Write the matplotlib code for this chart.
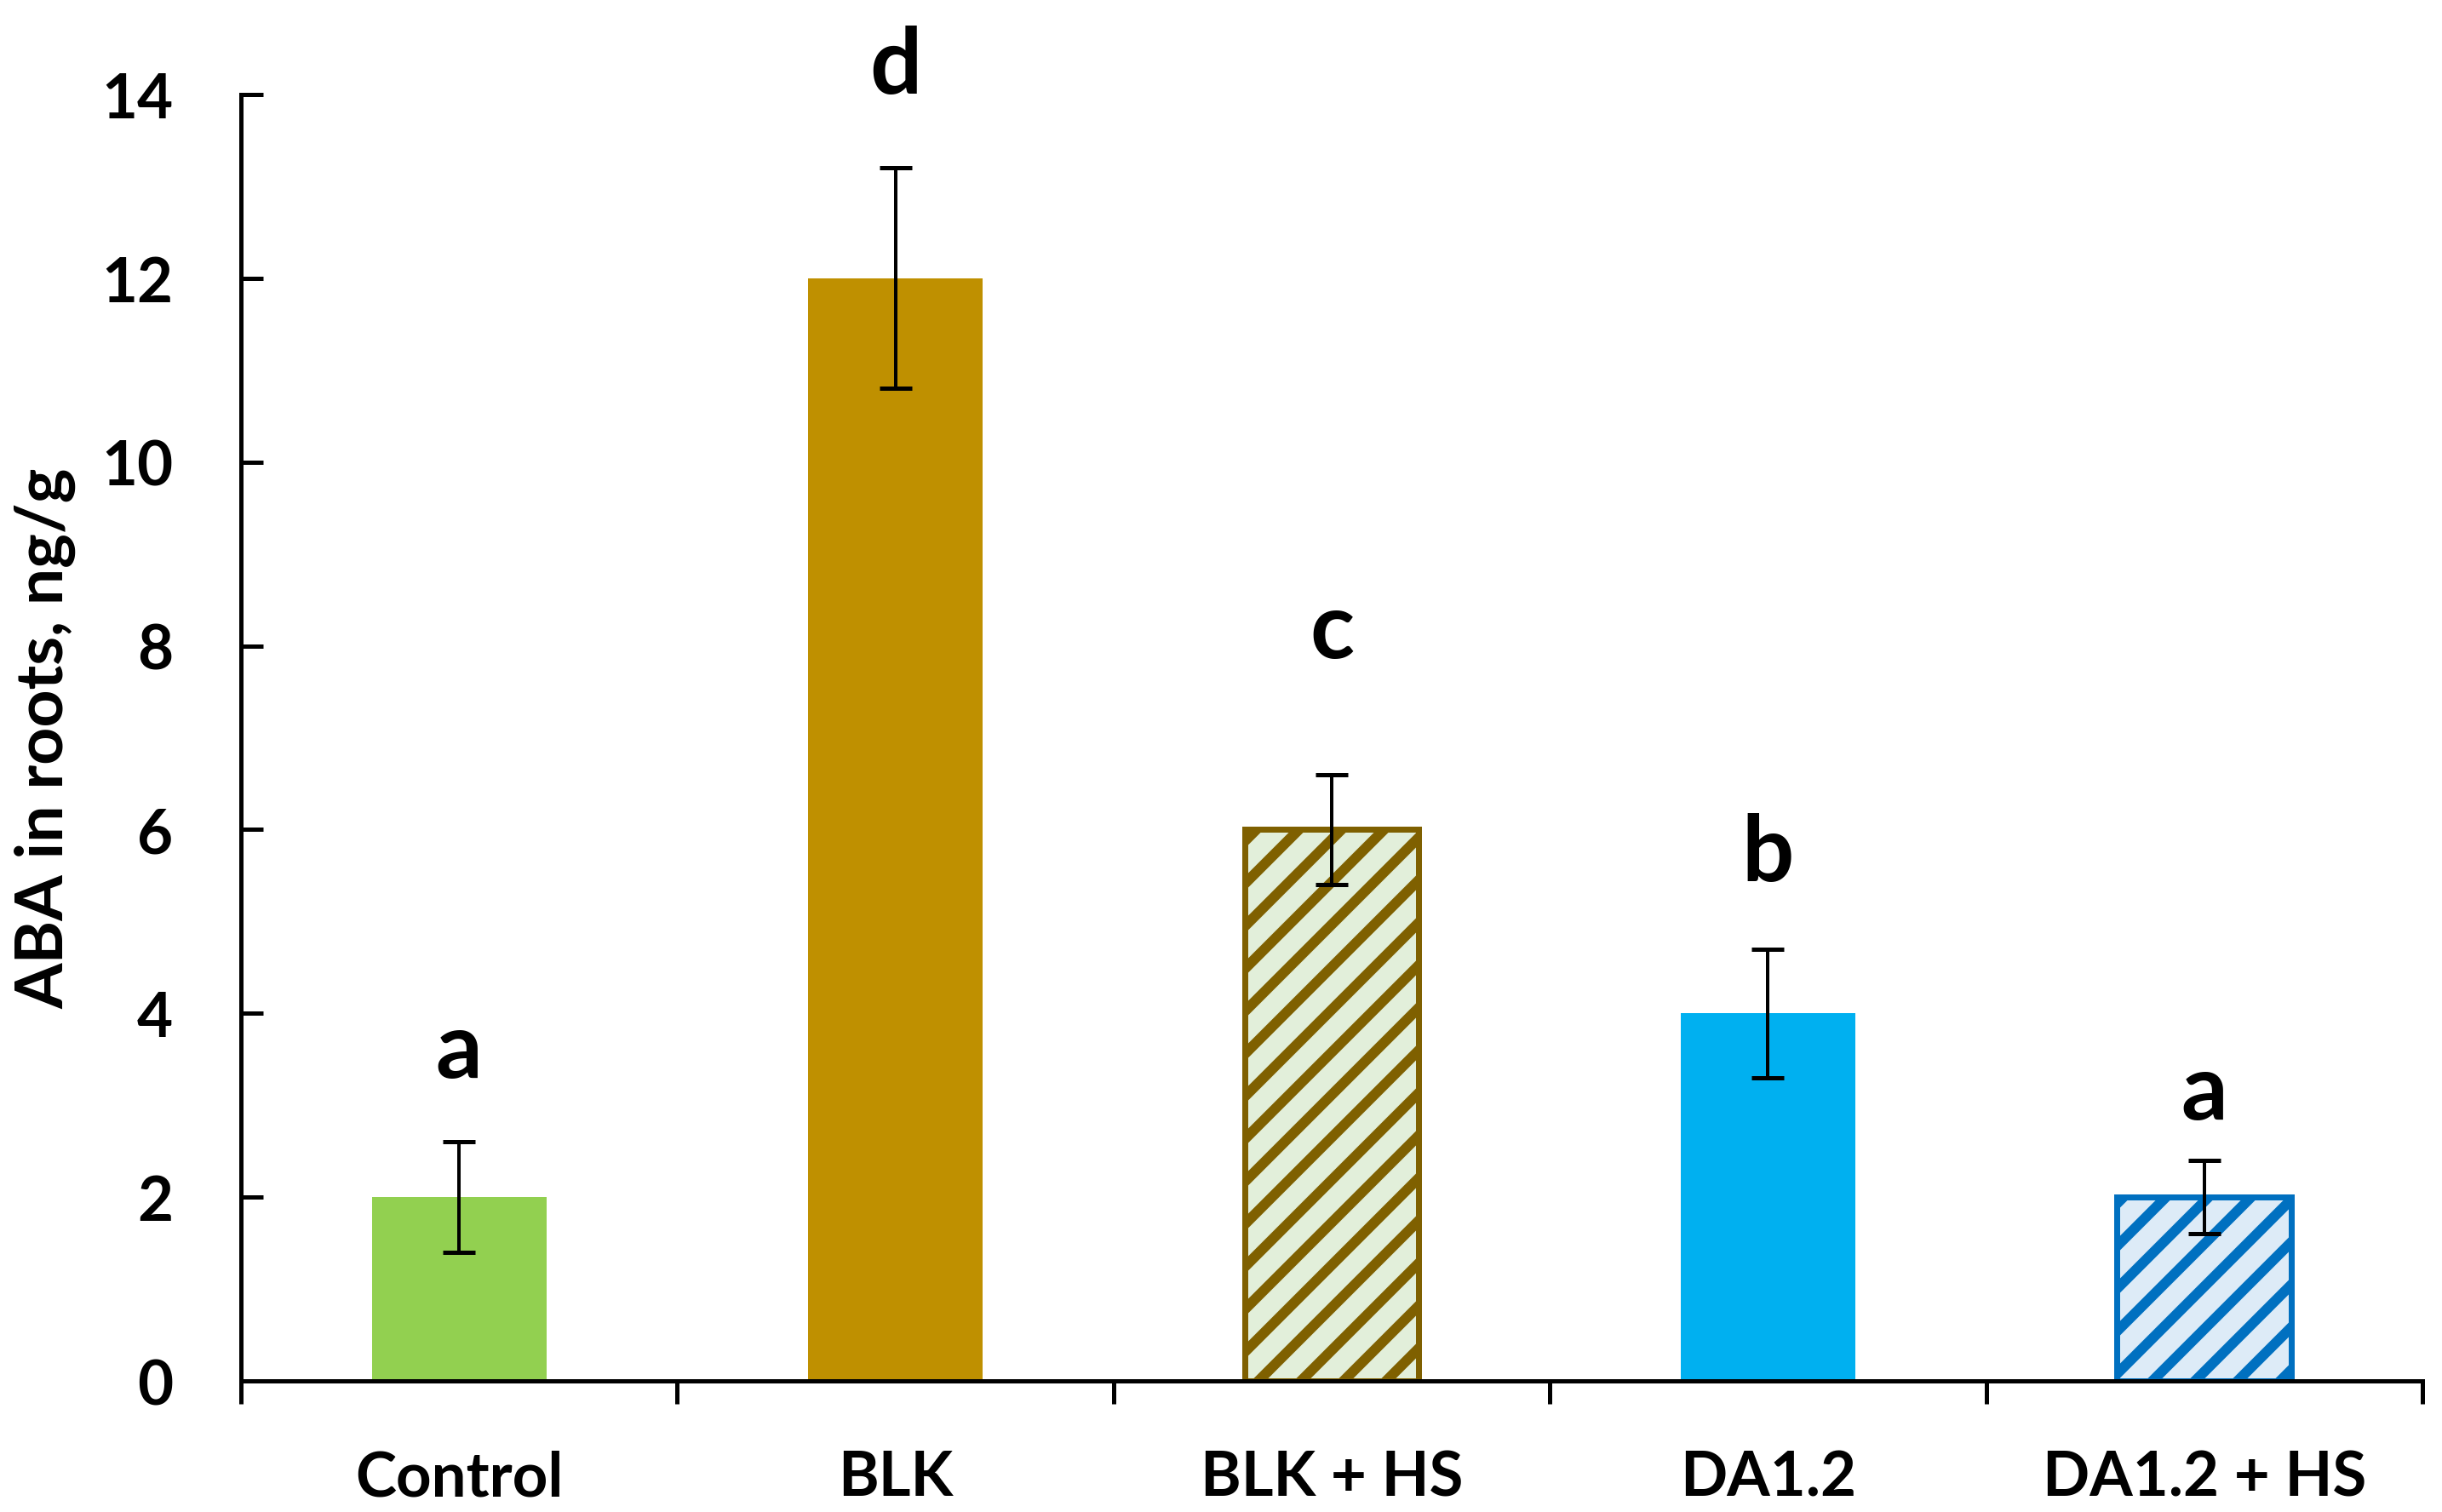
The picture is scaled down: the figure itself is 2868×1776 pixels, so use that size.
import matplotlib
matplotlib.use("Agg")
import matplotlib.pyplot as plt
import numpy as np

# ---- data ----
categories = ["Control", "BLK", "BLK + HS", "DA1.2", "DA1.2 + HS"]
aba_values = [2.0, 12.0, 6.0, 4.0, 2.0]
aba_errors = [0.6, 1.2, 0.6, 0.7, 0.4]
sig_letters = ["a", "d", "c", "b", "a"]
letter_y = [3.31, 14.02, 7.88, 5.45, 2.85]
y_ticks = [0, 2, 4, 6, 8, 10, 12, 14]

# ---- styles ----
face_colors = ["#92D050", "#BF9000", "#E2EFDA", "#00B0F0", "#DDEBF7"]
edge_colors = ["none", "none", "#7F6000", "none", "#0070C0"]
hatches = [None, None, "//", None, "//"]

DPI = 300


def pt(px):
    """convert output pixels to points"""
    return px * 72.0 / DPI


plt.rcParams["font.family"] = ["Lato", "DejaVu Sans"]
plt.rcParams["font.weight"] = "bold"
plt.rcParams["hatch.linewidth"] = pt(12)

fig = plt.figure(figsize=(2868 / DPI, 1777 / DPI), dpi=DPI)
ax = fig.add_axes([0.09868, 0.08666, 0.99198 - 0.09868, 0.93697 - 0.08666])

x = np.arange(len(categories))
for i in range(len(categories)):
    ax.bar(x[i], aba_values[i], width=0.40,
           color=face_colors[i],
           edgecolor=edge_colors[i],
           linewidth=pt(7) if edge_colors[i] != "none" else 0,
           hatch=hatches[i], zorder=2)

ax.errorbar(x, aba_values, yerr=aba_errors, fmt="none", ecolor="black",
            elinewidth=pt(4), capsize=pt(19), capthick=pt(5), zorder=3)

for xi, lab, ly in zip(x, sig_letters, letter_y):
    ax.text(xi, ly, lab, ha="center", va="baseline", fontsize=pt(108),
            fontweight="bold", color="black")

ax.set_xlim(-0.5, len(categories) - 0.5)
ax.set_ylim(0, 14)
ax.set_yticks(y_ticks)
ax.set_yticklabels([str(t) for t in y_ticks], fontsize=pt(72.6), fontweight="bold")

# major x ticks at category boundaries, labels on minor ticks at centres
ax.set_xticks(np.arange(-0.5, len(categories), 1.0))
ax.set_xticklabels([])
ax.set_xticks(x, minor=True)
ax.set_xticklabels(categories, minor=True, fontsize=pt(72.6), fontweight="bold")

ax.tick_params(axis="y", direction="in", length=pt(26), width=pt(5), pad=pt(80))
ax.tick_params(axis="x", which="major", direction="out", length=pt(27), width=pt(5))
ax.tick_params(axis="x", which="minor", length=0, pad=pt(80))

for s in ["top", "right"]:
    ax.spines[s].set_visible(False)
for s in ["left", "bottom"]:
    ax.spines[s].set_linewidth(pt(5))
    ax.spines[s].set_zorder(4)

ax.set_ylabel("ABA in roots, ng/g", fontsize=pt(77), fontweight="bold", va="center")
ax.yaxis.set_label_coords(-0.0898, 0.5)

fig.savefig("out.png", dpi=DPI, facecolor="white")
